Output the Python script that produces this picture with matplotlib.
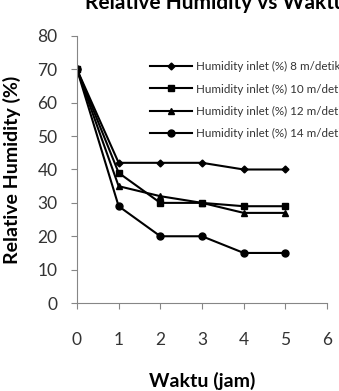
import matplotlib.pyplot as plt

plt.rcParams['font.family'] = ['Lato', 'DejaVu Sans']

# data
waktu = [0, 1, 2, 3, 4, 5]
rh_8 = [70, 42, 42, 42, 40, 40]
rh_10 = [70, 39, 30, 30, 29, 29]
rh_12 = [70, 35, 32, 30, 27, 27]
rh_14 = [70, 29, 20, 20, 15, 15]
labels = ["Humidity inlet (%) 8 m/detik", "Humidity inlet (%) 10 m/detik",
          "Humidity inlet (%) 12 m/detik", "Humidity inlet (%) 14 m/detik"]

fig = plt.figure(figsize=(3.39, 3.91), dpi=100)
ax = fig.add_axes([0.227, 0.225, 0.738, 0.683])

ax.plot(waktu, rh_8, color='black', lw=1.5, marker='D', ms=3.5, label=labels[0])
ax.plot(waktu, rh_10, color='black', lw=1.5, marker='s', ms=5, label=labels[1])
ax.plot(waktu, rh_12, color='black', lw=1.5, marker='^', ms=5, label=labels[2])
ax.plot(waktu, rh_14, color='black', lw=1.5, marker='o', ms=5, label=labels[3])

ax.set_xlim(0, 6)
ax.set_ylim(0, 80)
ax.set_xticks(range(0, 7))
ax.set_yticks(range(0, 81, 10))
for s in ['top', 'right']:
    ax.spines[s].set_visible(False)
for s in ['left', 'bottom']:
    ax.spines[s].set_color('#868686')
ax.tick_params(colors='#868686', labelcolor='#333333', labelsize=12.5, length=4)
ax.tick_params(axis='x', pad=17)
ax.tick_params(axis='y', pad=10)

ax.set_xlabel('Waktu (jam)', fontsize=14, fontweight='bold', labelpad=17)
ax.set_ylabel('Relative Humidity (%)', fontsize=14, fontweight='bold', labelpad=12)

fig.text(85 / 339, 1 - 9 / 391, 'Relative Humidity vs Waktu', fontsize=15,
         fontweight='bold', ha='left', va='baseline')

ax.legend(loc='upper left', bbox_to_anchor=(150 / 339, 1 - 61 / 391),
          bbox_transform=fig.transFigure, frameon=False, fontsize=8.4,
          handlelength=3.6, handletextpad=0.3, labelspacing=0.98,
          borderaxespad=0, borderpad=0, labelcolor='#333333')

fig.savefig('out.png', dpi=100)
